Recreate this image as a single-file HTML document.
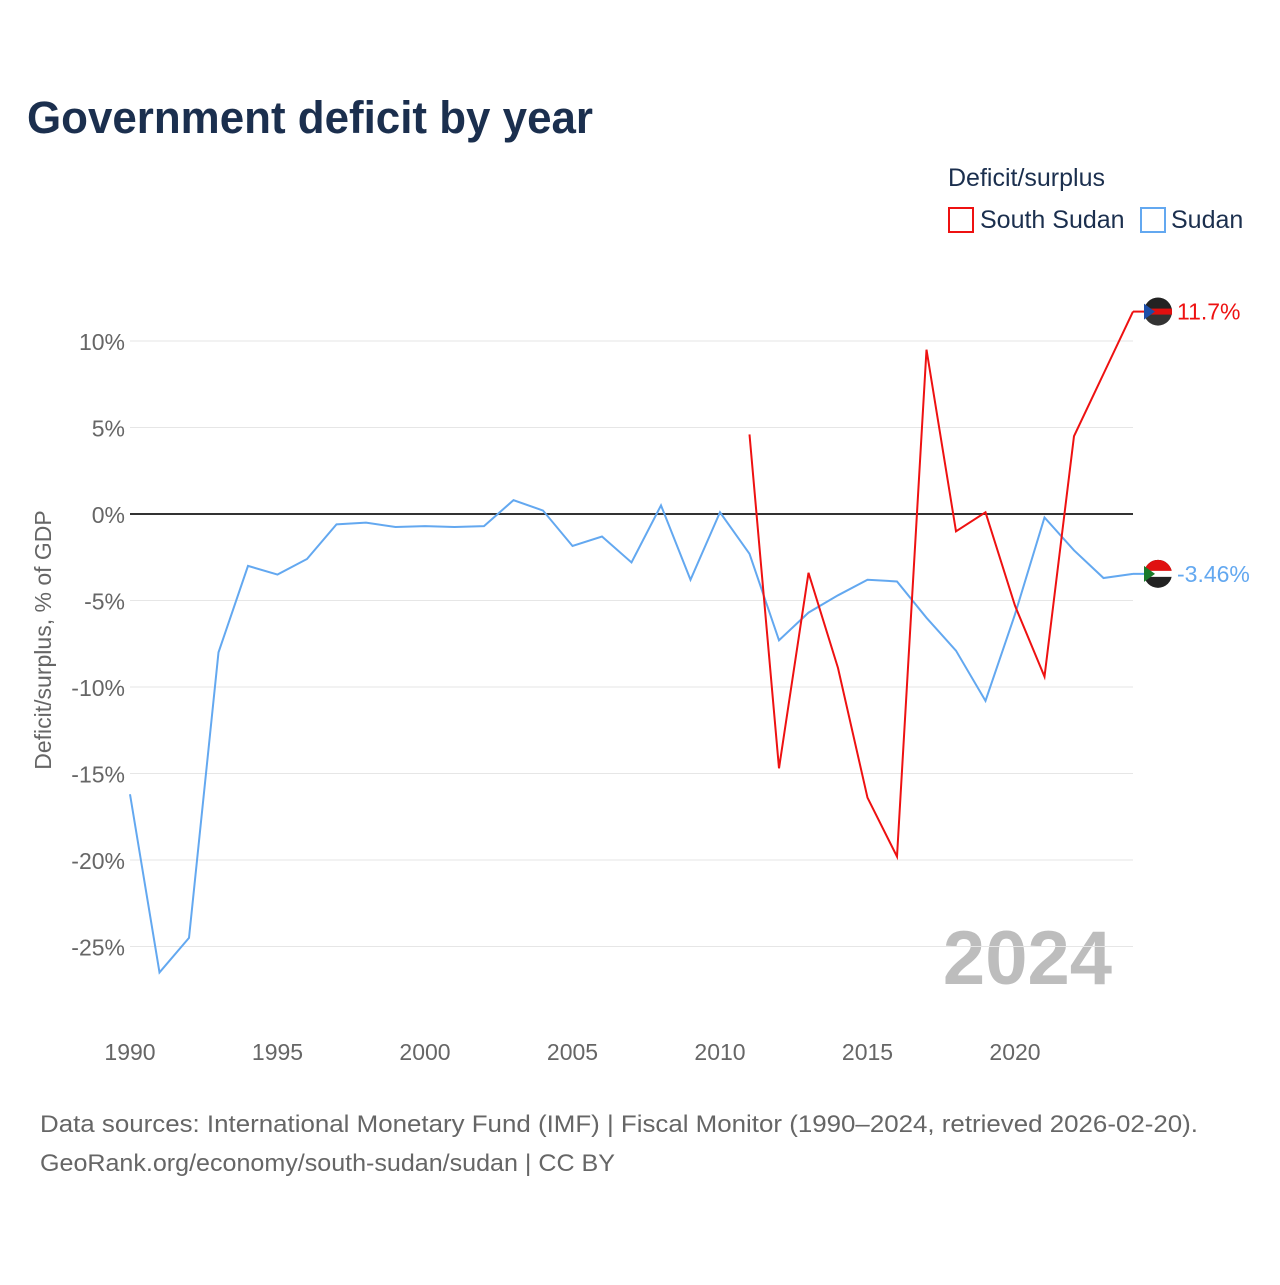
<!DOCTYPE html>
<html><head><meta charset="utf-8"><style>
body{margin:0;background:#fff;font-family:"Liberation Sans",sans-serif;}
svg text{font-family:"Liberation Sans",sans-serif;}
</style></head><body>
<svg id="chart" width="1280" height="1280" viewBox="0 0 1280 1280" xmlns="http://www.w3.org/2000/svg">
<text x="27" y="133" font-size="45" font-weight="bold" fill="#1b2f4e" textLength="566" lengthAdjust="spacingAndGlyphs">Government deficit by year</text>
<text x="948" y="186" font-size="25" fill="#1b2f4e">Deficit/surplus</text>
<rect x="949" y="208" width="24" height="24" fill="none" stroke="#ee1111" stroke-width="2"/>
<text x="980" y="228" font-size="25" fill="#1b2f4e">South Sudan</text>
<rect x="1141" y="208" width="24" height="24" fill="none" stroke="#63a8f0" stroke-width="2"/>
<text x="1171" y="228" font-size="25" fill="#1b2f4e">Sudan</text>
<text transform="translate(51,640) rotate(-90)" text-anchor="middle" font-size="23" fill="#666">Deficit/surplus, % of GDP</text>
<text x="1112" y="984" text-anchor="end" font-size="76" font-weight="bold" fill="#bdbdbd">2024</text>
<text x="40" y="1132" font-size="24" fill="#666" textLength="1158" lengthAdjust="spacingAndGlyphs">Data sources: International Monetary Fund (IMF) | Fiscal Monitor (1990–2024, retrieved 2026-02-20).</text>
<text x="40" y="1171" font-size="24" fill="#666" textLength="575" lengthAdjust="spacingAndGlyphs">GeoRank.org/economy/south-sudan/sudan | CC BY</text>
<g id="plot"></g>
</svg>
<script>
const yTicks=[10,5,0,-5,-10,-15,-20,-25];
const xTicks=[1990,1995,2000,2005,2010,2015,2020];
const sudanYears=[1990,1991,1992,1993,1994,1995,1996,1997,1998,1999,2000,2001,2002,2003,2004,2005,2006,2007,2008,2009,2010,2011,2012,2013,2014,2015,2016,2017,2018,2019,2020,2021,2022,2023,2024];
const sudanValues=[-16.2,-26.5,-24.5,-8.0,-3.0,-3.5,-2.6,-0.6,-0.5,-0.75,-0.7,-0.75,-0.7,0.8,0.2,-1.85,-1.3,-2.8,0.5,-3.8,0.1,-2.3,-7.3,-5.7,-4.7,-3.8,-3.9,-6.0,-7.9,-10.8,-5.8,-0.2,-2.1,-3.7,-3.46];
const ssYears=[2011,2012,2013,2014,2015,2016,2017,2018,2019,2020,2021,2022,2023,2024];
const ssValues=[4.6,-14.7,-3.4,-8.9,-16.4,-19.8,9.5,-1.0,0.1,-5.3,-9.4,4.5,8.1,11.7];
const sudanLabel="-3.46%";
const ssLabel="11.7%";

const NS="http://www.w3.org/2000/svg";
const g=document.getElementById('plot');
function xs(yr){return 130+(yr-1990)*29.5;}
function ys(v){return 514-v*17.3;}
function mk(tag,attrs,parent){const e=document.createElementNS(NS,tag);for(const k in attrs)e.setAttribute(k,attrs[k]);(parent||g).appendChild(e);return e;}

yTicks.forEach(v=>{
  const l=mk('line',{x1:130,x2:1133,y1:ys(v),y2:ys(v),stroke:v===0?'#333':'#e6e6e6','stroke-width':v===0?2:1});
  
  
  const t=mk('text',{x:125,y:ys(v)+9,'text-anchor':'end','font-size':23,fill:'#666'});
  t.textContent=v+'%';
  
  
});
xTicks.forEach(yr=>{
  const t=mk('text',{x:xs(yr),y:1060,'text-anchor':'middle','font-size':23,fill:'#666'});
  t.textContent=yr;
  
  
});
function line(years,vals,color,name){
  const d=years.map((y,i)=>(i?'L':'M')+xs(y)+','+ys(vals[i])).join(' ');
  const p=mk('path',{d:d,fill:'none',stroke:color,'stroke-width':2});
  
  
}
line(sudanYears,sudanValues,'#63a8f0','sudan-line');
line(ssYears,ssValues,'#ee1111','south-sudan-line');

function endMarker(years,vals,color,label,name,top,bottom){
  const x=xs(years[years.length-1])+25, y=ys(vals[vals.length-1]);
  mk('line',{x1:x-25,x2:x-14,y1:y,y2:y,stroke:color,'stroke-width':2});
  const grp=mk('g',{});
  
  
  mk('circle',{cx:x,cy:y,r:14,fill:bottom},grp);
  mk('path',{d:`M${x-14},${y} A14,14 0 0 1 ${x+14},${y} Z`,fill:top},grp);
  mk('rect',{x:x-14,y:y-3,width:28,height:6,fill:name==='sudan'?'#fff':'#e01010'},grp);
  mk('path',{d:`M${x-14},${y-8} L${x-3},${y} L${x-14},${y+8} Z`,fill:name==='sudan'?'#1a7a2a':'#1d4ea8'},grp);
  const t=mk('text',{x:x+19,y:y+8,'font-size':23,fill:color});
  t.textContent=label;
  
  
}
endMarker(ssYears,ssValues,'#ee1111',ssLabel,'south-sudan','#222','#333');
endMarker(sudanYears,sudanValues,'#63a8f0',sudanLabel,'sudan','#e01010','#222');
</script>
</body></html>
